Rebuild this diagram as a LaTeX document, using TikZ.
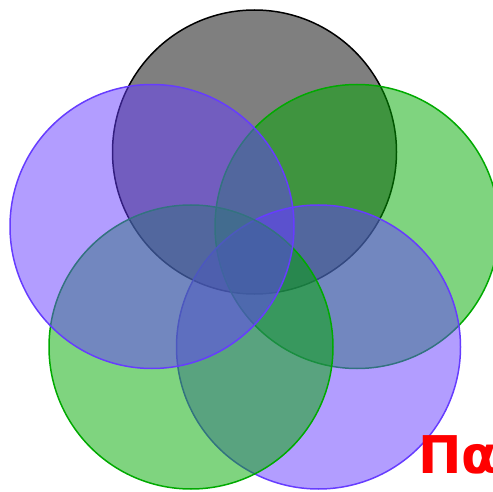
\documentclass[tikz,border=0pt]{standalone}
\usepackage{fontspec}
\newfontfamily\greekfont{DejaVu Sans}
\usetikzlibrary{positioning}
\definecolor{setpurple}{RGB}{102,60,255}
\definecolor{setgreen}{RGB}{0,170,0}

\begin{document}
\begin{tikzpicture}[x=1pt, y=-1pt,
    set/.style={circle, draw=#1, fill=#1, fill opacity=0.5, line width=1.5pt,
        minimum size=284pt, inner sep=0pt}]
    \useasboundingbox (0,0) rectangle (493,492);
    %the five sets, back to front
    \node (top) [set=black] at (254.5,152) {};
    \node (right) [set=setgreen] at (357,226.5) {};
    \node (lowright) [set=setpurple] at (318.5,347) {};
    \node (lowleft) [set=setgreen] at (191,347) {};
    \node (left) [set=setpurple] at (152,226.5) {};
    %caption, cut at the edge
    \node (caption) [anchor=base west, text=red, inner sep=0pt,
        font=\greekfont\bfseries\fontsize{52}{52}\selectfont] at (418,473) {Πα};
\end{tikzpicture}
\end{document}
